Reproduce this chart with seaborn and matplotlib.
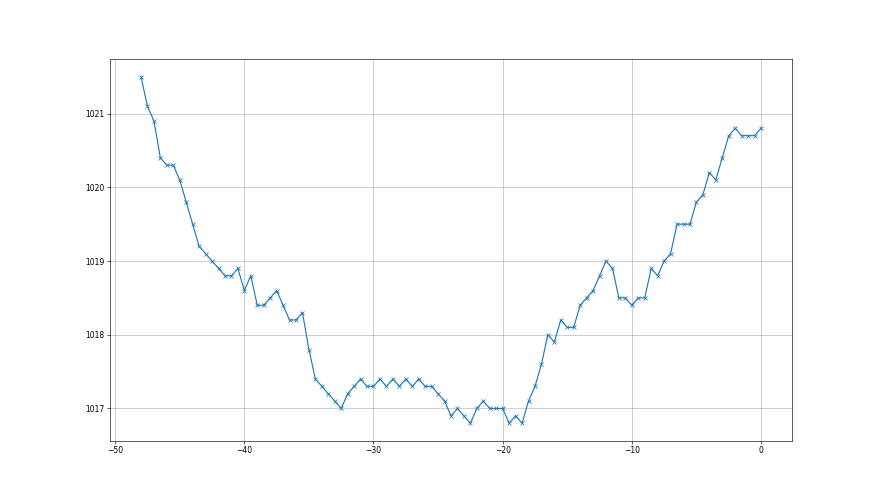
import numpy as np
import pandas as pd
import matplotlib
matplotlib.use("Agg")
import matplotlib.pyplot as plt
import seaborn as sns

# hours before now, half-hour steps
hours = np.arange(-48, 0.5, 0.5)

# pressure readings (hPa)
pressure = [
    1021.5, 1021.1, 1020.9, 1020.4, 1020.3, 1020.3, 1020.1, 1019.8, 1019.5, 1019.2,
    1019.1, 1019.0, 1018.9, 1018.8, 1018.8, 1018.9, 1018.6, 1018.8, 1018.4, 1018.4,
    1018.5, 1018.6, 1018.4, 1018.2, 1018.2, 1018.3, 1017.8, 1017.4, 1017.3, 1017.2,
    1017.1, 1017.0, 1017.2, 1017.3, 1017.4, 1017.3, 1017.3, 1017.4, 1017.3, 1017.4,
    1017.3, 1017.4, 1017.3, 1017.4, 1017.3, 1017.3, 1017.2, 1017.1, 1016.9, 1017.0,
    1016.9, 1016.8, 1017.0, 1017.1, 1017.0, 1017.0, 1017.0, 1016.8, 1016.9, 1016.8,
    1017.1, 1017.3, 1017.6, 1018.0, 1017.9, 1018.2, 1018.1, 1018.1, 1018.4, 1018.5,
    1018.6, 1018.8, 1019.0, 1018.9, 1018.5, 1018.5, 1018.4, 1018.5, 1018.5, 1018.9,
    1018.8, 1019.0, 1019.1, 1019.5, 1019.5, 1019.5, 1019.8, 1019.9, 1020.2, 1020.1,
    1020.4, 1020.7, 1020.8, 1020.7, 1020.7, 1020.7, 1020.8,
]

df = pd.DataFrame({"hours": hours, "pressure": pressure})

fig, ax = plt.subplots(figsize=(16, 9), dpi=55)
sns.lineplot(data=df, x="hours", y="pressure", marker="x", color="#1f77b4",
             markeredgecolor="#1f77b4", markeredgewidth=1, ax=ax)
ax.set_xlabel("")
ax.set_ylabel("")
ax.grid(True)

fig.savefig("out.png", dpi=55)
